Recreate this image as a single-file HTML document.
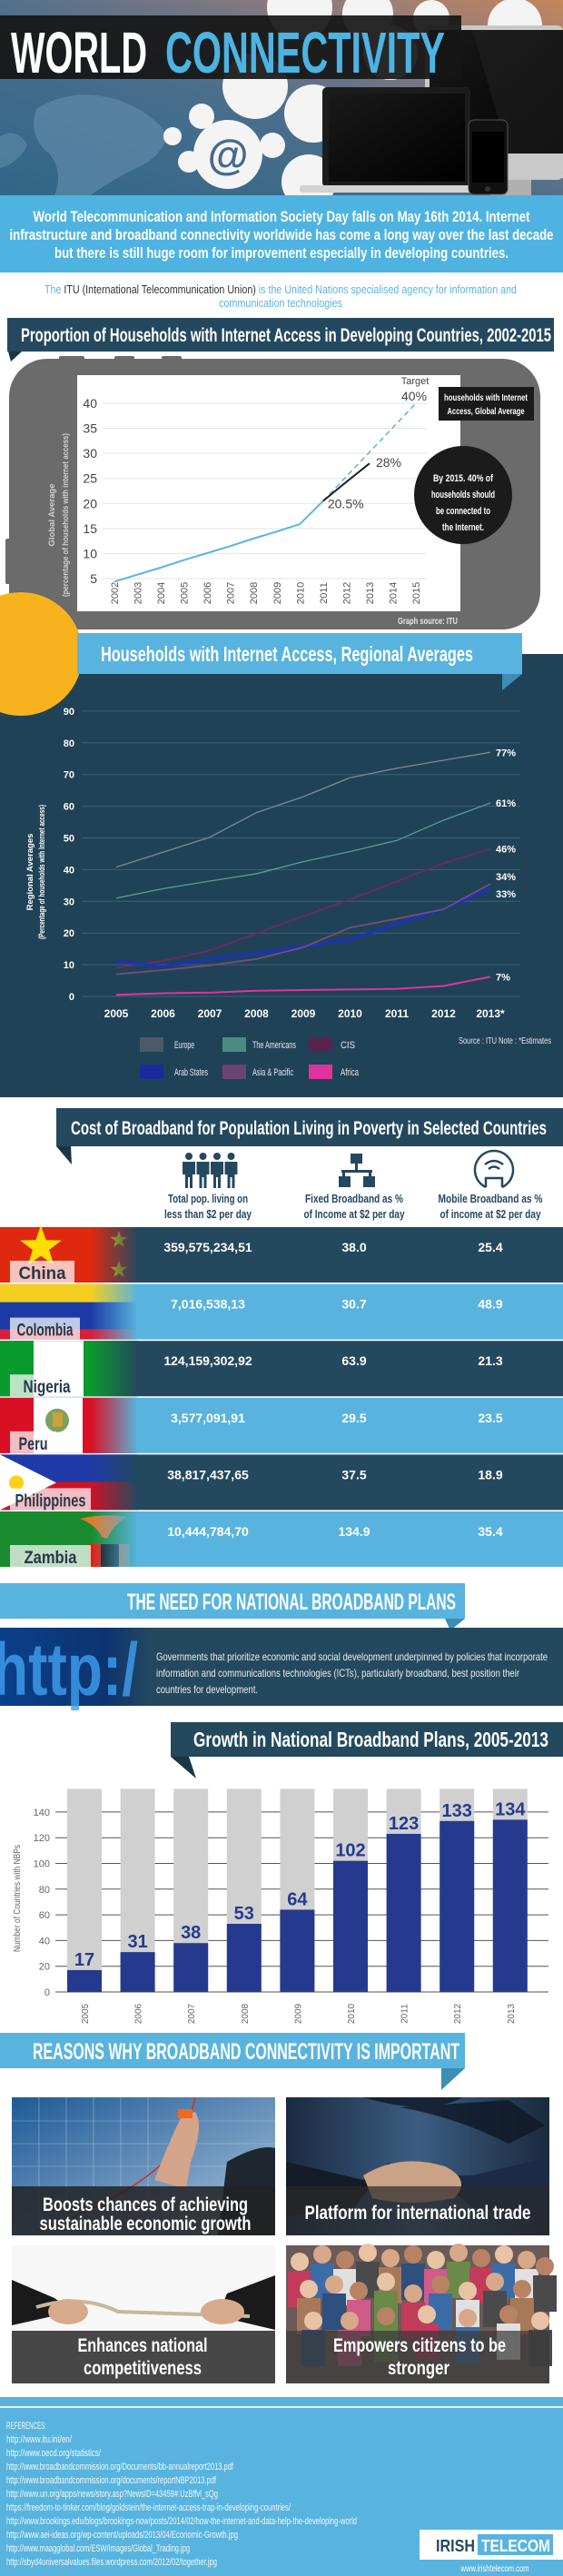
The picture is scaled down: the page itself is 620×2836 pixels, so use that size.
<!DOCTYPE html>
<html><head><meta charset="utf-8"><title>World Connectivity</title>
<style>
html,body{margin:0;padding:0;background:#fff;}
body{width:620px;height:2836px;overflow:hidden;}
svg{display:block;}
text{font-family:"Liberation Sans Narrow","Liberation Sans",sans-serif;}
.b{font-weight:bold;}
</style></head>
<body>
<svg id="page" width="620" height="2836" viewBox="0 0 620 2836" xmlns="http://www.w3.org/2000/svg">
<defs>
<linearGradient id="hdrBg" x1="0" y1="1" x2="1" y2="0">
<stop offset="0" stop-color="#2f6688"/><stop offset="0.45" stop-color="#4a6e8c"/><stop offset="0.75" stop-color="#8a7a80"/><stop offset="1" stop-color="#c4865c"/></linearGradient>
<linearGradient id="fadeDark" x1="0" x2="1"><stop offset="0" stop-color="#24495e" stop-opacity="0"/><stop offset="1" stop-color="#24495e"/></linearGradient>
<linearGradient id="fadeLight" x1="0" x2="1"><stop offset="0" stop-color="#58b4de" stop-opacity="0"/><stop offset="1" stop-color="#58b4de"/></linearGradient>
<linearGradient id="httpBg" x1="0" x2="1"><stop offset="0" stop-color="#0b3f8a"/><stop offset="0.7" stop-color="#0d3470"/><stop offset="1" stop-color="#24495e"/></linearGradient>
<linearGradient id="img1Bg" x1="0" x2="1" y1="0" y2="1"><stop offset="0" stop-color="#1f5a96"/><stop offset="1" stop-color="#a9c4dc"/></linearGradient>
<linearGradient id="img2Bg" x1="0" x2="1"><stop offset="0" stop-color="#1a2a40"/><stop offset="0.5" stop-color="#3c5d82"/><stop offset="1" stop-color="#1b2a3c"/></linearGradient>
<linearGradient id="scr" x1="0" x2="1" y1="0" y2="1"><stop offset="0" stop-color="#1a1a1a"/><stop offset="1" stop-color="#000"/></linearGradient>
</defs>

<!-- HEADER -->
<g>
<rect x="0" y="0" width="620" height="215" fill="url(#hdrBg)"/>
<path d="M40 120 Q80 95 130 110 Q170 125 185 150 Q175 175 150 185 Q120 200 100 215 L60 215 Q70 190 55 170 Q30 150 40 120Z" fill="#6a93b2" opacity="0.55"/>
<path d="M0 150 Q20 140 30 160 Q20 180 0 185Z" fill="#6a93b2" opacity="0.5"/>
<g fill="#f4f4f4">
<circle cx="251" cy="170" r="38"/><circle cx="281" cy="95" r="36"/><circle cx="330" cy="8" r="36"/><circle cx="405" cy="15" r="28"/><circle cx="567" cy="28" r="30"/><circle cx="345" cy="125" r="32"/><circle cx="430" cy="58" r="30"/><circle cx="340" cy="200" r="30"/><circle cx="222" cy="128" r="14"/><circle cx="208" cy="178" r="12"/><circle cx="300" cy="160" r="14"/><circle cx="190" cy="150" r="10"/><circle cx="475" cy="20" r="20"/><circle cx="612" cy="175" r="22"/>
</g>
<text x="251" y="186" font-size="46" fill="#476a8a" text-anchor="middle" class="b">@</text>
<g>
<rect x="468" y="28" width="152" height="170" rx="6" fill="#c9c9c9"/>
<rect x="473" y="33" width="147" height="136" fill="url(#scr)"/>
<polygon points="520,33 620,33 620,169 560,169" fill="#222" opacity="0.6"/>
<rect x="540" y="198" width="45" height="17" fill="#b0b0b0"/>
</g>
<rect x="0" y="17" width="508" height="70" fill="#161616" opacity="0.92"/>
<text x="12" y="80" font-size="64" fill="#fff" class="b" textLength="150" lengthAdjust="spacingAndGlyphs">WORLD</text>
<text x="182" y="80" font-size="64" fill="#4db3e2" class="b" textLength="308" lengthAdjust="spacingAndGlyphs">CONNECTIVITY</text>
<g>
<rect x="355" y="96" width="163" height="110" rx="5" fill="#1c1c1c"/>
<rect x="362" y="103" width="150" height="97" fill="url(#scr)"/>
<rect x="330" y="204" width="200" height="8" rx="3" fill="#d3d3d3"/>
</g>
<g>
<rect x="516" y="132" width="43" height="82" rx="6" fill="#111" stroke="#555" stroke-width="1"/>
<rect x="520" y="145" width="35" height="56" fill="#000"/>
<circle cx="537" cy="208" r="3" fill="#333"/>
</g>
</g>

<!-- INTRO -->
<rect x="0" y="215" width="620" height="85" fill="#4fb3e1"/>
<text x="310" y="244" font-size="17" fill="#fff" class="b" text-anchor="middle" textLength="547" lengthAdjust="spacingAndGlyphs">World Telecommunication and Information Society Day falls on May 16th 2014. Internet</text>
<text x="310" y="264" font-size="17" fill="#fff" class="b" text-anchor="middle" textLength="599" lengthAdjust="spacingAndGlyphs">infrastructure and broadband connectivity worldwide has come a long way over the last decade</text>
<text x="310" y="284" font-size="17" fill="#fff" class="b" text-anchor="middle" textLength="500" lengthAdjust="spacingAndGlyphs">but there is still huge room for improvement especially in developing countries.</text>
<text x="309" y="323" font-size="13" fill="#5ab4e0" text-anchor="middle" textLength="520" lengthAdjust="spacingAndGlyphs">The <tspan fill="#333">ITU (International Telecommunication Union)</tspan> is the United Nations specialised agency for information and</text>
<text x="309" y="338" font-size="13" fill="#5ab4e0" text-anchor="middle" textLength="136" lengthAdjust="spacingAndGlyphs">communication technologies</text>

<!-- CHART 1 -->
<rect x="8" y="350" width="602" height="37" fill="#24495e"/>
<polygon points="9,387 24,387 12,398" fill="#1a3546"/>
<text x="23" y="376" font-size="21" fill="#fff" class="b" textLength="584" lengthAdjust="spacingAndGlyphs">Proportion of Households with Internet Access in Developing Countries, 2002-2015</text>
<g fill="#6b6b6b">
<rect x="65" y="392" width="28" height="6" rx="2"/><rect x="126" y="392" width="22" height="6" rx="2"/><rect x="178" y="392" width="22" height="6" rx="2"/>
<rect x="6" y="593" width="8" height="50" rx="2"/>
<rect x="10" y="395" width="585" height="298" rx="42"/>
</g>
<rect x="85" y="413" width="422" height="260" fill="#fff"/>
<g id="chart1"></g>
<text transform="translate(60,567) rotate(-90)" font-size="9.5" fill="#d0d0d0" text-anchor="middle" class="b">Global Average</text>
<text transform="translate(75,567) rotate(-90)" font-size="9.5" fill="#d0d0d0" text-anchor="middle" class="b" textLength="180" lengthAdjust="spacingAndGlyphs">(percentage of households with internet access)</text>
<rect x="483" y="426" width="105" height="37" fill="#1a1a1a"/>
<text x="535" y="441" font-size="10" fill="#fff" class="b" text-anchor="middle" textLength="92" lengthAdjust="spacingAndGlyphs">households with Internet</text>
<text x="535" y="456" font-size="10" fill="#fff" class="b" text-anchor="middle" textLength="85" lengthAdjust="spacingAndGlyphs">Access, Global Average</text>
<circle cx="510" cy="545" r="54" fill="#1b1b1b"/>
<text x="510" y="530" font-size="11" fill="#fff" class="b" text-anchor="middle" textLength="66" lengthAdjust="spacingAndGlyphs">By  2015. 40% of</text>
<text x="510" y="548" font-size="11" fill="#fff" class="b" text-anchor="middle" textLength="70" lengthAdjust="spacingAndGlyphs">households should</text>
<text x="510" y="566" font-size="11" fill="#fff" class="b" text-anchor="middle" textLength="60" lengthAdjust="spacingAndGlyphs">be connected to</text>
<text x="510" y="584" font-size="11" fill="#fff" class="b" text-anchor="middle" textLength="46" lengthAdjust="spacingAndGlyphs">the Internet.</text>
<text x="438" y="687" font-size="10.5" fill="#e5e5e5" class="b" textLength="66" lengthAdjust="spacingAndGlyphs">Graph source: ITU</text>

<!-- CHART 2 -->
<rect x="0" y="720" width="620" height="488" fill="#1f4257"/>
<circle cx="23" cy="720" r="68" fill="#f8b21e"/>
<rect x="85" y="697" width="490" height="45" fill="#58b4de"/>
<polygon points="553,742 575,742 553,760" fill="#3d8db5"/>
<text x="111" y="728" font-size="23" fill="#fff" class="b" textLength="410" lengthAdjust="spacingAndGlyphs">Households with Internet Access, Regional Averages</text>
<g id="chart2"></g>
<text transform="translate(36,960) rotate(-90)" font-size="9.5" fill="#fff" text-anchor="middle" class="b">Regional Averages</text>
<text transform="translate(49,960) rotate(-90)" font-size="9.5" fill="#fff" text-anchor="middle" class="b" textLength="148" lengthAdjust="spacingAndGlyphs">(Percentage of households with Internet access)</text>
<g id="legend2"></g>
<text x="505" y="1149" font-size="10.5" fill="#e8e8e8" textLength="102" lengthAdjust="spacingAndGlyphs">Source : ITU   Note : *Estimates</text>

<!-- COST TABLE -->
<rect x="62" y="1220" width="558" height="42" fill="#24495e"/>
<polygon points="62,1262 78,1262 79,1282" fill="#1a3546"/>
<text x="78" y="1249" font-size="21" fill="#fff" class="b" textLength="524" lengthAdjust="spacingAndGlyphs">Cost of Broadband for Population Living in Poverty in Selected Countries</text>
<g fill="#24495e" id="peopleIcon"></g>
<g fill="#24495e">
<rect x="386" y="1270" width="13" height="11"/><rect x="391" y="1281" width="3" height="8"/><rect x="376" y="1288" width="34" height="3"/><rect x="377" y="1291" width="3" height="5"/><rect x="406" y="1291" width="3" height="5"/><rect x="373" y="1295" width="13" height="12"/><rect x="400" y="1295" width="13" height="12"/>
</g>
<g fill="none" stroke="#24495e" stroke-width="2.5">
<path d="M535 1307 A21 21 0 1 1 553 1307"/>
<path d="M535 1307 L535 1297 L553 1297 L553 1307"/>
<path d="M534 1282 Q544 1274 554 1282"/><path d="M538 1287 Q544 1282 550 1287"/>
</g>
<text x="229" y="1324" font-size="13" fill="#24495e" class="b" text-anchor="middle" textLength="88" lengthAdjust="spacingAndGlyphs">Total pop. living on</text>
<text x="229" y="1341" font-size="13" fill="#24495e" class="b" text-anchor="middle" textLength="96" lengthAdjust="spacingAndGlyphs">less than $2 per day</text>
<text x="390" y="1324" font-size="13" fill="#24495e" class="b" text-anchor="middle" textLength="108" lengthAdjust="spacingAndGlyphs">Fixed Broadband as %</text>
<text x="390" y="1341" font-size="13" fill="#24495e" class="b" text-anchor="middle" textLength="111" lengthAdjust="spacingAndGlyphs">of Income at $2 per day</text>
<text x="540" y="1324" font-size="13" fill="#24495e" class="b" text-anchor="middle" textLength="115" lengthAdjust="spacingAndGlyphs">Mobile Broadband as %</text>
<text x="540" y="1341" font-size="13" fill="#24495e" class="b" text-anchor="middle" textLength="111" lengthAdjust="spacingAndGlyphs">of income at $2 per day</text>
<g id="table"></g>

<!-- NEED FOR NBP -->
<rect x="0" y="1743" width="512" height="39" fill="#58b4de"/>
<polygon points="490,1782 512,1782 496,1795" fill="#3d8db5"/>
<text x="502" y="1772" font-size="25" fill="#fff" class="b" text-anchor="end" textLength="362" lengthAdjust="spacingAndGlyphs">THE NEED FOR NATIONAL BROADBAND PLANS</text>
<rect x="0" y="1792" width="620" height="86" fill="#24495e"/>
<rect x="0" y="1792" width="168" height="86" fill="url(#httpBg)"/>
<text x="-8" y="1866" font-size="82" fill="#3fa0f0" opacity="0.8" class="b" textLength="160" lengthAdjust="spacingAndGlyphs">http:/</text>
<text x="172" y="1828" font-size="12" fill="#e8eef2" textLength="431" lengthAdjust="spacingAndGlyphs">Governments that prioritize economic and social development underpinned by policies that incorporate</text>
<text x="172" y="1846" font-size="12" fill="#e8eef2" textLength="400" lengthAdjust="spacingAndGlyphs">information and communications technologies (ICTs), particularly broadband, best position their</text>
<text x="172" y="1864" font-size="12" fill="#e8eef2" textLength="112" lengthAdjust="spacingAndGlyphs">countries for development.</text>

<!-- BAR CHART -->
<rect x="188" y="1896" width="432" height="38" fill="#24495e"/>
<polygon points="188,1934 208,1934 216,1958" fill="#1a3546"/>
<text x="213" y="1923" font-size="23" fill="#fff" class="b" textLength="391" lengthAdjust="spacingAndGlyphs">Growth in National Broadband Plans, 2005-2013</text>
<g id="bars"></g>
<text transform="translate(22,2090) rotate(-90)" font-size="10" fill="#666" text-anchor="middle" textLength="118" lengthAdjust="spacingAndGlyphs">Number of Countries with NBPs</text>

<!-- REASONS -->
<rect x="0" y="2238" width="512" height="39" fill="#58b4de"/>
<polygon points="486,2277 512,2277 486,2301" fill="#3d8db5"/>
<text x="36" y="2267" font-size="25" fill="#fff" class="b" textLength="470" lengthAdjust="spacingAndGlyphs">REASONS WHY BROADBAND CONNECTIVITY IS IMPORTANT</text>

<g>
<rect x="13" y="2309" width="290" height="152" fill="url(#img1Bg)"/>
<g stroke="#cfe0ee" stroke-width="0.6" opacity="0.6"><line x1="43" y1="2309" x2="43" y2="2461"/><line x1="73" y1="2309" x2="73" y2="2461"/><line x1="103" y1="2309" x2="103" y2="2461"/><line x1="133" y1="2309" x2="133" y2="2461"/><line x1="163" y1="2309" x2="163" y2="2461"/><line x1="13" y1="2335" x2="303" y2="2335"/><line x1="13" y1="2360" x2="303" y2="2360"/><line x1="13" y1="2385" x2="303" y2="2385"/></g>
<path d="M40 2455 Q150 2420 200 2360 Q210 2330 215 2309" stroke="#d92a1e" stroke-width="1.5" fill="none"/>
<path d="M170 2400 Q185 2360 200 2330 L215 2325 Q225 2340 210 2380 L205 2410Z" fill="#d5a48a"/>
<rect x="196" y="2322" width="16" height="10" fill="#f06a1a"/>
<path d="M250 2380 Q285 2360 303 2365 L303 2461 L240 2461Z" fill="#1e2630"/>
<rect x="13" y="2407" width="290" height="54" fill="#222" opacity="0.85"/>
<text x="160" y="2434" font-size="21" fill="#fff" class="b" text-anchor="middle" textLength="226" lengthAdjust="spacingAndGlyphs">Boosts chances of achieving</text>
<text x="160" y="2455" font-size="21" fill="#fff" class="b" text-anchor="middle" textLength="233" lengthAdjust="spacingAndGlyphs">sustainable economic growth</text>
</g>
<g>
<rect x="315" y="2309" width="290" height="152" fill="url(#img2Bg)"/>
<path d="M400 2309 Q470 2330 510 2309Z M440 2320 Q500 2330 560 2360 L600 2340 L560 2312Z" fill="#0e1726" opacity="0.8"/>
<path d="M315 2380 L400 2400 L430 2380 L390 2430 L315 2440Z" fill="#151c28"/>
<path d="M605 2375 L520 2395 L480 2395 L520 2430 L605 2440Z" fill="#1c2a45"/>
<path d="M400 2395 Q440 2370 490 2385 Q520 2400 500 2420 Q450 2430 410 2420Z" fill="#caa285"/>
<rect x="315" y="2407" width="290" height="54" fill="#2a2a2a" opacity="0.7"/>
<text x="460" y="2443" font-size="21" fill="#fff" class="b" text-anchor="middle" textLength="249" lengthAdjust="spacingAndGlyphs">Platform for international trade</text>
</g>
<g>
<rect x="13" y="2472" width="290" height="152" fill="#f7f7f7"/>
<path d="M13 2510 L60 2530 L80 2545 L13 2560Z" fill="#1a1a1a"/>
<path d="M303 2505 L250 2525 L240 2550 L303 2565Z" fill="#1a1a1a"/>
<path d="M40 2540 Q90 2525 130 2545 L275 2550" stroke="#c9b79a" stroke-width="4" fill="none"/>
<ellipse cx="75" cy="2545" rx="22" ry="14" fill="#d8aa8c"/><ellipse cx="245" cy="2545" rx="24" ry="14" fill="#d8aa8c"/>
<rect x="13" y="2566" width="290" height="58" fill="#474747"/>
<text x="157" y="2589" font-size="21" fill="#fff" class="b" text-anchor="middle" textLength="143" lengthAdjust="spacingAndGlyphs">Enhances national</text>
<text x="157" y="2614" font-size="21" fill="#fff" class="b" text-anchor="middle" textLength="130" lengthAdjust="spacingAndGlyphs">competitiveness</text>
</g>
<g>
<rect x="315" y="2472" width="290" height="152" fill="#6a5a58"/>
<g id="crowd"></g>
<rect x="315" y="2566" width="290" height="58" fill="#3a3a3a" opacity="0.72"/>
<text x="462" y="2589" font-size="21" fill="#fff" class="b" text-anchor="middle" textLength="190" lengthAdjust="spacingAndGlyphs">Empowers citizens to be</text>
<text x="461" y="2614" font-size="21" fill="#fff" class="b" text-anchor="middle" textLength="68" lengthAdjust="spacingAndGlyphs">stronger</text>
</g>

<!-- FOOTER -->
<rect x="0" y="2639" width="620" height="197" fill="#58b4de"/>
<rect x="0" y="2649" width="620" height="2" fill="#e8f5fc"/>
<g fill="#f2f8fb" font-size="11">
<text x="7" y="2674" textLength="44" lengthAdjust="spacingAndGlyphs">REFERENCES:</text>
<text x="7" y="2689" textLength="72" lengthAdjust="spacingAndGlyphs">http://www.itu.int/en/</text>
<text x="7" y="2704" textLength="104" lengthAdjust="spacingAndGlyphs">http://www.oecd.org/statistics/</text>
<text x="7" y="2719" textLength="250" lengthAdjust="spacingAndGlyphs">http://www.broadbandcommission.org/Documents/bb-annualreport2013.pdf</text>
<text x="7" y="2734" textLength="231" lengthAdjust="spacingAndGlyphs">http://www.broadbandcommission.org/documents/reportNBP2013.pdf</text>
<text x="7" y="2749" textLength="233" lengthAdjust="spacingAndGlyphs">http://www.un.org/apps/news/story.asp?NewsID=43459#.UzBffvl_sQg</text>
<text x="7" y="2764" textLength="313" lengthAdjust="spacingAndGlyphs">https://freedom-to-tinker.com/blog/goldstein/the-internet-access-trap-in-developing-countries/</text>
<text x="7" y="2779" textLength="386" lengthAdjust="spacingAndGlyphs">http://www.brookings.edu/blogs/brookings-now/posts/2014/02/how-the-internet-and-data-help-the-developing-world</text>
<text x="7" y="2794" textLength="255" lengthAdjust="spacingAndGlyphs">http://www.aei-ideas.org/wp-content/uploads/2013/04/Economic-Growth.jpg</text>
<text x="7" y="2809" textLength="202" lengthAdjust="spacingAndGlyphs">http://www.maagglobal.com/ESW/Images/Global_Trading.jpg</text>
<text x="7" y="2824" textLength="232" lengthAdjust="spacingAndGlyphs">http://sbyd4universalvalues.files.wordpress.com/2012/02/together.jpg</text>
</g>
<g>
<rect x="462" y="2785" width="158" height="33" fill="#fff"/>
<text x="480" y="2809" font-size="18" fill="#24495e" class="b" textLength="43" lengthAdjust="spacingAndGlyphs">IRISH</text>
<rect x="526" y="2790" width="83" height="23" fill="#58b4de"/>
<text x="530" y="2809" font-size="18" fill="#fff" class="b" textLength="76" lengthAdjust="spacingAndGlyphs">TELECOM</text>
</g>
<text x="545" y="2831" font-size="10" fill="#fff" text-anchor="middle" textLength="75" lengthAdjust="spacingAndGlyphs">www.irishtelecom.com</text>
</svg>

<script>
var NS = "http://www.w3.org/2000/svg";
function mk(parent, tag, attrs, txt) {
  var el = document.createElementNS(NS, tag);
  for (var k in attrs) el.setAttribute(k, attrs[k]);
  if (txt !== undefined) el.textContent = txt;
  parent.appendChild(el);
  return el;
}

/* ---------- Chart 1 data ---------- */
var c1Years = [2002,2003,2004,2005,2006,2007,2008,2009,2010,2011,2012,2013,2014,2015];
var c1Ticks = [5,10,15,20,25,30,35,40];
var c1ActualYears = [2002,2003,2004,2005,2006,2007,2008,2009,2010,2011];
var c1Actual = [4.4,5.8,7.2,8.7,10.1,11.5,13.0,14.4,15.9,20.5];
var c1RecentYears = [2011,2012,2013];
var c1Recent = [20.5,24.3,28];
var c1TargetYears = [2011,2015];
var c1Target = [20.5,40];

function c1x(yr){ return 126 + (yr - 2002) * 25.54; }
function c1y(v){ return 637 - (v - 5) * 5.514; }

var g1 = document.getElementById('chart1');
c1Ticks.forEach(function(t){
  var gl = mk(g1,'line',{x1:113,x2:470,y1:c1y(t),y2:c1y(t),stroke:'#e3e3e3','stroke-width':1});
  
  
  var tl = mk(g1,'text',{x:107,y:c1y(t)+5,'font-size':14,fill:'#444','text-anchor':'end'}, String(t));
  
  
});
c1Years.forEach(function(yr){
  var x = c1x(yr);
  var yl = mk(g1,'text',{transform:'translate('+(x+4)+',653) rotate(-90)','font-size':11,fill:'#555','text-anchor':'middle'}, String(yr));
  
  
});
function pts(years, vals, fx, fy){ return years.map(function(y,i){ return fx(y)+','+fy(vals[i]); }).join(' '); }
var tgt = mk(g1,'polyline',{points:pts(c1TargetYears,c1Target,c1x,c1y),fill:'none',stroke:'#5ab4e0','stroke-width':1.5,'stroke-dasharray':'6,4'});


var act = mk(g1,'polyline',{points:pts(c1ActualYears,c1Actual,c1x,c1y),fill:'none',stroke:'#5ab4e0','stroke-width':2});


var rec = mk(g1,'polyline',{points:pts(c1RecentYears,c1Recent,c1x,c1y),fill:'none',stroke:'#222','stroke-width':2});


var l1 = mk(g1,'text',{x:c1x(2011)+5,y:c1y(20.5)+8,'font-size':14,fill:'#444'}, '20.5%');


var l2 = mk(g1,'text',{x:c1x(2013)+7,y:c1y(28)+4,'font-size':14,fill:'#444'}, '28%');


var l3 = mk(g1,'text',{x:c1x(2015)-2,y:c1y(40)-3,'font-size':14,fill:'#444','text-anchor':'middle'}, '40%');


var l4 = mk(g1,'text',{x:c1x(2015)-1,y:c1y(40)-21,'font-size':11,fill:'#444','text-anchor':'middle'}, 'Target');



/* ---------- Chart 2 data ---------- */
var c2Years = ['2005','2006','2007','2008','2009','2010','2011','2012','2013*'];
var c2Ticks = [0,10,20,30,40,50,60,70,80,90];
var europe   = [40.8,45.5,50.2,58,63,69,72,74.5,77];
var americas = [31,34,36.4,38.7,42.5,45.7,49.2,55.6,61];
var cis      = [9,11.2,14.5,19.9,25.3,30.6,36.3,42,46.5];
var arab     = [11,9.5,11.7,13.6,15.8,17.9,22.8,27.7,33.8];
var asia     = [7,8.3,9.8,11.8,15.5,21.7,24.5,27.5,35.5];
var africa   = [0.5,1,1.2,1.8,2,2.2,2.4,3.3,6.2];
var c2Names  = ['Europe','The Americans','CIS','Arab States','Asia & Pacific','Africa'];
var c2End    = ['77%','61%','46%','33%','34%','7%'];

function c2x(i){ return 128 + i * 51.5; }
function c2y(v){ return 1097 - v * 3.49; }
var g2 = document.getElementById('chart2');
c2Ticks.forEach(function(t){
  var gl = mk(g2,'line',{x1:90,x2:573,y1:c2y(t),y2:c2y(t),stroke:'#3e6074','stroke-width':1});
  
  
  var tl = mk(g2,'text',{x:82,y:c2y(t)+4,'font-size':11,fill:'#fff','text-anchor':'end','font-weight':'bold'}, String(t));
  
  
});
c2Years.forEach(function(y,i){
  var yl = mk(g2,'text',{x:c2x(i),y:1120,'font-size':12,fill:'#fff','text-anchor':'middle','font-weight':'bold'}, y);
  
  
});
var c2Series = [europe, americas, cis, arab, asia, africa];
var c2Line = ['#7e8b94','#5d9c94','#6c2a60','#1a2fd0','#774d7a','#e0359b'];
var c2Swatch = ['#4a5a66','#4a8b82','#5a2450','#1b2a9a','#6b4470','#e0339a'];
var c2Width = [1.3,1.3,2,2.5,1.8,2];
function linePts(vals){ return vals.map(function(v,i){ return c2x(i)+','+c2y(v); }).join(' '); }
c2Series.forEach(function(s,k){
  var pl = mk(g2,'polyline',{points:linePts(s),fill:'none',stroke:c2Line[k],'stroke-width':c2Width[k]});
  
  
  var last = s[s.length-1];
  var dy = (k === 3) ? 9 : (k === 4 ? -4 : 4);
  var el = mk(g2,'text',{x:546,y:c2y(last)+dy,'font-size':11,fill:'#fff','font-weight':'bold'}, c2End[k]);
  
  
});
var lg = document.getElementById('legend2');
var lgX = [154,245,340], lgLX = [192,278,375], lgY = [1142,1172];
var lgW = [22,48,16,37,45,20];
c2Names.forEach(function(n,k){
  var col = k % 3, row = Math.floor(k / 3);
  var sw = mk(lg,'rect',{x:lgX[col],y:lgY[row],width:26,height:16,fill:c2Swatch[k]});
  
  
  var tx = mk(lg,'text',{x:lgLX[col],y:lgY[row]+12,'font-size':11,fill:'#e8e8e8',textLength:lgW[k],lengthAdjust:'spacingAndGlyphs'}, n);
  
  
});

/* ---------- People icon ---------- */
var pi = document.getElementById('peopleIcon');
[0,1,2,3].forEach(function(i){
  var cx = 208 + i * 15.5;
  var hd = mk(pi,'circle',{cx:cx,cy:1273,r:4});
  
  
  var bd = mk(pi,'path',{d:'M'+(cx-7)+' 1279 h14 v14 h-3 v15 h-3 v-12 h-2 v12 h-3 v-15 h-3z'});
  
  
});

/* ---------- Cost table data ---------- */
var countries = ['China','Colombia','Nigeria','Peru','Philippines','Zambia'];
var popUnder2 = ['359,575,234,51','7,016,538,13','124,159,302,92','3,577,091,91','38,817,437,65','10,444,784,70'];
var fixedPct  = ['38.0','30.7','63.9','29.5','37.5','134.9'];
var mobilePct = ['25.4','48.9','21.3','23.5','18.9','35.4'];
var tg = document.getElementById('table');
function star(cx, cy, r){
  var p = [];
  for (var i=0;i<10;i++){ var a = -Math.PI/2 + i*Math.PI/5; var rr = i%2 ? r*0.4 : r; p.push((cx+rr*Math.cos(a)).toFixed(1)+','+(cy+rr*Math.sin(a)).toFixed(1)); }
  return p.join(' ');
}
countries.forEach(function(c,i){
  var T = 1351 + i * 62.6, H = 61;
  var dark = (i % 2 === 0);
  var rowCol = dark ? '#24495e' : '#58b4de';
  var row = mk(tg,'rect',{x:0,y:T,width:620,height:H,fill:rowCol});
  
  
  var fg = mk(tg,'g',{});
  
  
  if (c === 'China') {
    mk(fg,'rect',{x:0,y:T,width:150,height:H,fill:'#de2910'});
    mk(fg,'polygon',{points:star(45,T+22,24),fill:'#ffde00'});
    mk(fg,'polygon',{points:star(131,T+14,10),fill:'#ffde00'});
    mk(fg,'polygon',{points:star(131,T+47,10),fill:'#ffde00'});
  } else if (c === 'Colombia') {
    mk(fg,'rect',{x:0,y:T,width:150,height:20,fill:'#f5cf1f'});
    mk(fg,'rect',{x:0,y:T+20,width:150,height:30,fill:'#1c3aa6'});
    mk(fg,'rect',{x:0,y:T+50,width:150,height:11,fill:'#d61f3a'});
  } else if (c === 'Nigeria') {
    mk(fg,'rect',{x:0,y:T,width:150,height:H,fill:'#0a9a2e'});
    mk(fg,'rect',{x:37,y:T,width:55,height:H,fill:'#fff'});
  } else if (c === 'Peru') {
    mk(fg,'rect',{x:0,y:T,width:150,height:H,fill:'#d91023'});
    mk(fg,'rect',{x:37,y:T,width:54,height:H,fill:'#fff'});
    mk(fg,'circle',{cx:63,cy:T+25,r:13,fill:'#5a8a3a',opacity:0.8});
    mk(fg,'rect',{x:58,y:T+16,width:11,height:16,fill:'#c9a23c'});
  } else if (c === 'Philippines') {
    mk(fg,'rect',{x:0,y:T,width:150,height:30,fill:'#1f3aa8'});
    mk(fg,'rect',{x:0,y:T+30,width:150,height:31,fill:'#ce1126'});
    mk(fg,'polygon',{points:'0,'+T+' 62,'+(T+31)+' 0,'+(T+61),fill:'#fff'});
    mk(fg,'circle',{cx:18,cy:T+31,r:8,fill:'#fcd116'});
  } else {
    mk(fg,'rect',{x:0,y:T,width:150,height:H,fill:'#198a2e'});
    mk(fg,'path',{d:'M88 '+(T+8)+' Q115 '+(T+2)+' 140 '+(T+6)+' Q125 '+(T+14)+' 118 '+(T+30)+' L112 '+(T+28)+' Q105 '+(T+14)+' 88 '+(T+8)+'Z',fill:'#e57a2b'});
    mk(fg,'rect',{x:98,y:T+36,width:13,height:25,fill:'#de2010'});
    mk(fg,'rect',{x:111,y:T+36,width:20,height:25,fill:'#111'});
    mk(fg,'rect',{x:131,y:T+36,width:12,height:25,fill:'#e57a2b'});
  }
  var fd = mk(tg,'rect',{x:100,y:T,width:52,height:H,fill: dark ? 'url(#fadeDark)' : 'url(#fadeLight)'});
  
  
  var bw = [71,77,81,51,89,89][i];
  var tw = [52,62,52,32,78,58][i];
  var lb = mk(tg,'rect',{x:11,y:T+37,width:bw,height:24,fill:'#fff',opacity:0.72});
  
  
  var ct = mk(tg,'text',{x:11+bw/2,y:T+57,'font-size':19,fill:'#24384a','text-anchor':'middle','font-weight':'bold',textLength:tw,lengthAdjust:'spacingAndGlyphs'}, c);
  
  
  var v1 = mk(tg,'text',{x:229,y:T+27,'font-size':14,fill:'#fff','text-anchor':'middle','font-weight':'bold'}, popUnder2[i]);
  
  
  var v2 = mk(tg,'text',{x:390,y:T+27,'font-size':14,fill:'#fff','text-anchor':'middle','font-weight':'bold'}, fixedPct[i]);
  
  
  var v3 = mk(tg,'text',{x:540,y:T+27,'font-size':14,fill:'#fff','text-anchor':'middle','font-weight':'bold'}, mobilePct[i]);
  
  
});

/* ---------- Bar chart data ---------- */
var bcYears = ['2005','2006','2007','2008','2009','2010','2011','2012','2013'];
var bcValues = [17,31,38,53,64,102,123,133,134];
var bcCapacity = 158;
var bcTicks = [0,20,40,60,80,100,120,140];
function bx(i){ return 74 + i * 58.6; }
function by(v){ return 2193 - v * 1.415; }
var gb = document.getElementById('bars');
bcTicks.forEach(function(t){
  var gl = mk(gb,'line',{x1:61,x2:604,y1:by(t),y2:by(t),stroke:'#555','stroke-width':1});
  
  
  var tl = mk(gb,'text',{x:55,y:by(t)+4,'font-size':11,fill:'#666','text-anchor':'end'}, String(t));
  
  
});
bcValues.forEach(function(v,i){
  var x = bx(i);
  var bg = mk(gb,'rect',{x:x,y:by(bcCapacity),width:38,height:by(0)-by(bcCapacity),fill:'#d0d0d0'});
  
  
  var br = mk(gb,'rect',{x:x,y:by(v),width:38,height:by(0)-by(v),fill:'#253a8e'});
  
  
  var vl = mk(gb,'text',{x:x+19,y:by(v)-5,'font-size':20,fill:'#253a8e','text-anchor':'middle','font-weight':'bold'}, String(v));
  
  
  var yl = mk(gb,'text',{transform:'translate('+(x+23)+',2217) rotate(-90)','font-size':10,fill:'#666','text-anchor':'middle'}, bcYears[i]);
  
  
});

/* ---------- Crowd picture ---------- */
var crowd = document.getElementById('crowd');
var faces = [[330,2490],[355,2482],[380,2488],[405,2480],[430,2486],[455,2482],[480,2488],[505,2480],[530,2486],[555,2482],[580,2488],[600,2495],[340,2520],[368,2515],[395,2522],[425,2512],[455,2525],[485,2515],[515,2522],[545,2512],[575,2520],[345,2555],[385,2555],[425,2550],[470,2548],[515,2552],[560,2548],[595,2555]];
var shirts = ['#c23b5a','#3a6da8','#e0e0e0','#4a4a4a','#a8785a','#2f4f7f','#d05a8a','#6a8a4a'];
faces.forEach(function(f,k){
  var sh = mk(crowd,'rect',{x:f[0]-13,y:f[1]+10,width:26,height:40,fill:shirts[k%8]});
  
  
  var fc = mk(crowd,'circle',{cx:f[0],cy:f[1],r:10,fill:(k%3===0?'#e8c3a6':(k%3===1?'#d7a889':'#b88364'))});
  
  
});
</script>
</body></html>
